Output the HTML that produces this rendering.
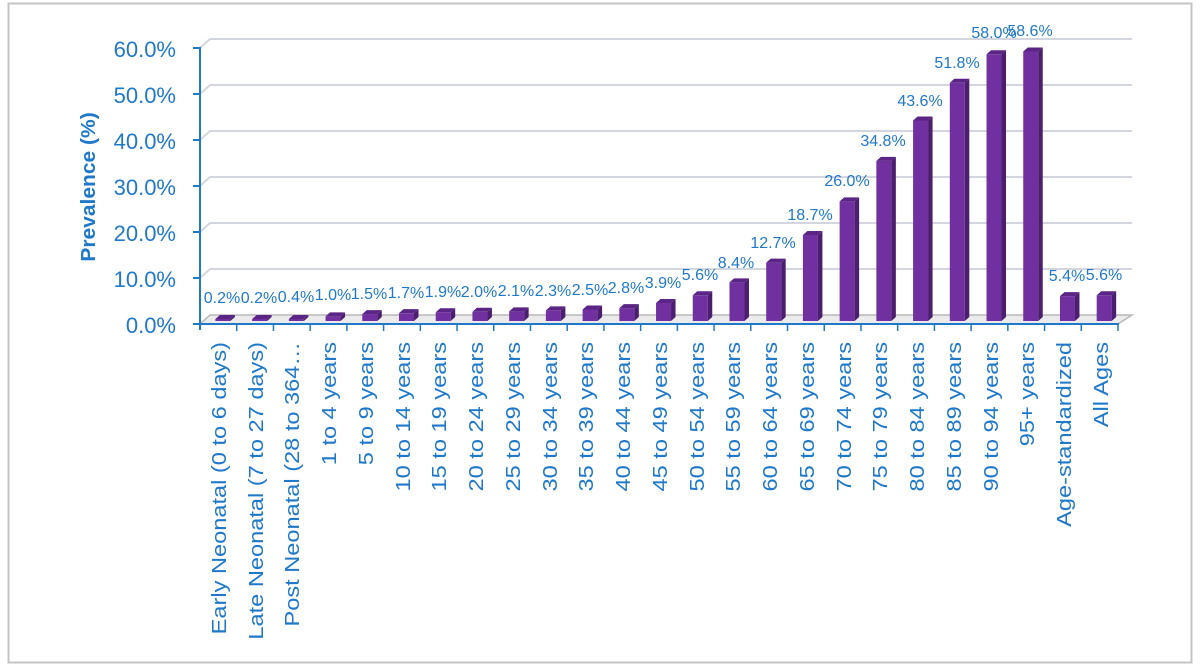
<!DOCTYPE html>
<html><head><meta charset="utf-8"><style>
html,body{margin:0;padding:0;background:#fff;}
svg{display:block;}
text{font-family:"Liberation Sans",sans-serif;fill:#1f78c8;}
</style></head><body>
<svg id="s" width="1200" height="669" viewBox="0 0 1200 669" xmlns="http://www.w3.org/2000/svg">
<rect x="8.5" y="3.5" width="1183" height="659" fill="#fff" stroke="#c4c4c4" stroke-width="2"/>
<g id="grid" stroke="#d3d6de" stroke-width="2" fill="none">
<polyline points="200,48 210,39 1132,39"/>
<polyline points="200,94 210,85 1132,85"/>
<polyline points="200,140 210,131 1132,131"/>
<polyline points="200,186 210,177 1132,177"/>
<polyline points="200,232 210,223 1132,223"/>
<polyline points="200,278 210,269 1132,269"/>
</g>
<polygon points="200,324 210,315 1132,315 1118,324" fill="#ebebeb" stroke="#b8b8b8" stroke-width="1.5"/>
<g id="bars"></g>
<g stroke="#1f78c8" stroke-width="2">
<line x1="200" y1="47" x2="200" y2="330"/>
<line x1="199" y1="324" x2="1119" y2="324"/>
<line x1="193" y1="48" x2="200" y2="48"/><line x1="193" y1="94" x2="200" y2="94"/>
<line x1="193" y1="140" x2="200" y2="140"/><line x1="193" y1="186" x2="200" y2="186"/>
<line x1="193" y1="232" x2="200" y2="232"/><line x1="193" y1="278" x2="200" y2="278"/>
<line x1="193" y1="324" x2="200" y2="324"/>
</g>
<g id="ticks" stroke="#1f78c8" stroke-width="1.5"></g>
<g font-size="22" text-anchor="end">
<text x="176" y="57">60.0%</text><text x="176" y="103">50.0%</text>
<text x="176" y="149">40.0%</text><text x="176" y="195">30.0%</text>
<text x="176" y="241">20.0%</text><text x="176" y="287">10.0%</text>
<text x="176" y="333">0.0%</text>
</g>
<text transform="translate(95,187) rotate(-90) scale(1.05,1)" font-size="20" font-weight="bold" text-anchor="middle">Prevalence (%)</text>
<g font-size="16" text-anchor="middle">
<text x="222" y="303">0.2%</text>
<text x="259" y="303">0.2%</text>
<text x="296" y="302">0.4%</text>
<text x="333" y="300">1.0%</text>
<text x="369" y="299">1.5%</text>
<text x="406" y="298">1.7%</text>
<text x="443" y="297">1.9%</text>
<text x="479" y="297">2.0%</text>
<text x="516" y="296">2.1%</text>
<text x="553" y="296">2.3%</text>
<text x="590" y="295">2.5%</text>
<text x="626" y="293">2.8%</text>
<text x="663" y="288">3.9%</text>
<text x="700" y="280">5.6%</text>
<text x="736" y="268">8.4%</text>
<text x="773" y="248">12.7%</text>
<text x="810" y="220">18.7%</text>
<text x="847" y="186">26.0%</text>
<text x="883" y="146">34.8%</text>
<text x="920" y="106">43.6%</text>
<text x="957" y="68">51.8%</text>
<text x="994" y="38">58.0%</text>
<text x="1030" y="36">58.6%</text>
<text x="1067" y="281">5.4%</text>
<text x="1104" y="280">5.6%</text>
</g>
<g font-size="20" text-anchor="end">
<text transform="translate(226,342) rotate(-90) scale(1.18,1)">Early Neonatal (0 to 6 days)</text>
<text transform="translate(263,342) rotate(-90) scale(1.18,1)">Late Neonatal (7 to 27 days)</text>
<text transform="translate(299,342) rotate(-90) scale(1.18,1)">Post Neonatal (28 to 364…</text>
<text transform="translate(336,342) rotate(-90) scale(1.18,1)">1 to 4 years</text>
<text transform="translate(373,342) rotate(-90) scale(1.18,1)">5 to 9 years</text>
<text transform="translate(410,342) rotate(-90) scale(1.18,1)">10 to 14 years</text>
<text transform="translate(446,342) rotate(-90) scale(1.18,1)">15 to 19 years</text>
<text transform="translate(483,342) rotate(-90) scale(1.18,1)">20 to 24 years</text>
<text transform="translate(520,342) rotate(-90) scale(1.18,1)">25 to 29 years</text>
<text transform="translate(557,342) rotate(-90) scale(1.18,1)">30 to 34 years</text>
<text transform="translate(593,342) rotate(-90) scale(1.18,1)">35 to 39 years</text>
<text transform="translate(630,342) rotate(-90) scale(1.18,1)">40 to 44 years</text>
<text transform="translate(667,342) rotate(-90) scale(1.18,1)">45 to 49 years</text>
<text transform="translate(704,342) rotate(-90) scale(1.18,1)">50 to 54 years</text>
<text transform="translate(740,342) rotate(-90) scale(1.18,1)">55 to 59 years</text>
<text transform="translate(777,342) rotate(-90) scale(1.18,1)">60 to 64 years</text>
<text transform="translate(814,342) rotate(-90) scale(1.18,1)">65 to 69 years</text>
<text transform="translate(851,342) rotate(-90) scale(1.18,1)">70 to 74 years</text>
<text transform="translate(887,342) rotate(-90) scale(1.18,1)">75 to 79 years</text>
<text transform="translate(924,342) rotate(-90) scale(1.18,1)">80 to 84 years</text>
<text transform="translate(961,342) rotate(-90) scale(1.18,1)">85 to 89 years</text>
<text transform="translate(998,342) rotate(-90) scale(1.18,1)">90 to 94 years</text>
<text transform="translate(1034,342) rotate(-90) scale(1.18,1)">95+ years</text>
<text transform="translate(1071,342) rotate(-90) scale(1.18,1)">Age-standardized</text>
<text transform="translate(1108,342) rotate(-90) scale(1.18,1)">All Ages</text>
</g>
</svg>
<script>
(function(){
var v=[0.2,0.2,0.4,1.0,1.5,1.7,1.9,2.0,2.1,2.3,2.5,2.8,3.9,5.6,8.4,12.7,18.7,26.0,34.8,43.6,51.8,58.0,58.6,5.4,5.6];
var ns="http://www.w3.org/2000/svg",g=document.getElementById("bars"),t=document.getElementById("ticks");
function p(pts,f){var e=document.createElementNS(ns,"polygon");e.setAttribute("points",pts);e.setAttribute("fill",f);g.appendChild(e);}
for(var k=0;k<25;k++){
 var left=200+36.72*k,x=left+15.4,w=15,d=4.5,dy=4,b=321,top=b-v[k]*4.6;
 if(b-top<2)top=b-2;
 p(x+","+top+" "+(x+w)+","+top+" "+(x+w)+","+b+" "+x+","+b,"#7030a0");
 p((x+w)+","+top+" "+(x+w+d)+","+(top-dy)+" "+(x+w+d)+","+(b-dy)+" "+(x+w)+","+b,"#4b1f6e");
 p(x+","+top+" "+(x+d)+","+(top-dy)+" "+(x+w+d)+","+(top-dy)+" "+(x+w)+","+top,"#5a2585");
}
for(var k=1;k<=25;k++){var x=200+36.72*k;var l=document.createElementNS(ns,"line");
 l.setAttribute("x1",x);l.setAttribute("x2",x);l.setAttribute("y1",324);l.setAttribute("y2",331);t.appendChild(l);}
})();
</script>
</body></html>
